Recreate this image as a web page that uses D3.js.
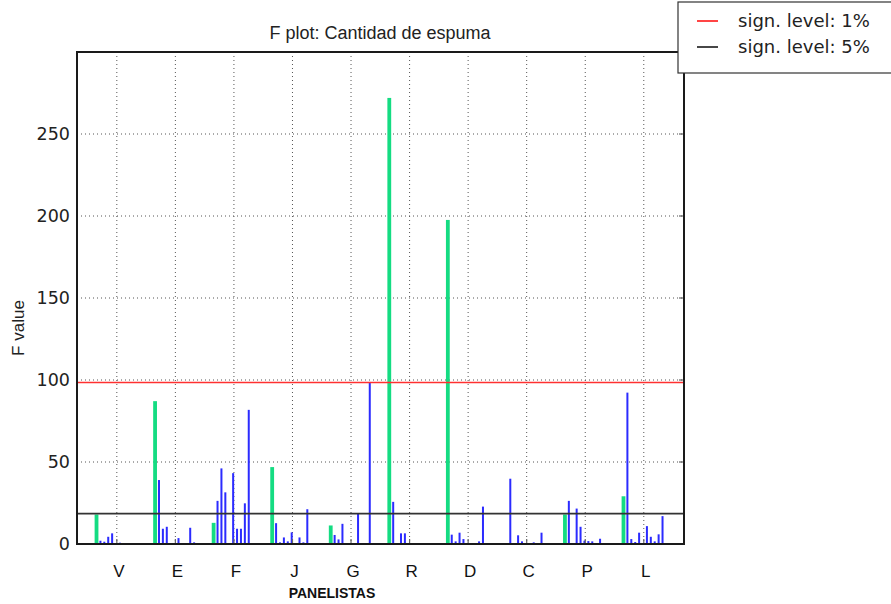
<!DOCTYPE html>
<html>
<head>
<meta charset="utf-8">
<script src="https://cdn.jsdelivr.net/npm/d3@7"></script>
<style>
  body { margin: 0; background: #fff; }
  svg { display: block; }
</style>
</head>
<body>
<div id="chart"></div>
<script>
const width = 891, height = 604;

// panelists and F values per attribute (first one = this attribute, green)
const panelists = ["V", "E", "F", "J", "G", "R", "D", "C", "P", "L"];
const fV = [18.0, 2.0, 1.4, 4.4, 6.5, 0, 0.8, 0, 0, 0, 0];
const fE = [87.1, 39.0, 9.3, 10.5, 0, 0, 3.6, 0, 0.6, 9.9, 1.0];
const fF = [12.9, 26.3, 46.1, 31.5, 0.5, 43.2, 9.3, 9.3, 24.8, 81.8, 0.6];
const fJ = [46.9, 12.7, 1.0, 4.0, 1.6, 7.1, 0.6, 4.0, 1.0, 21.2, 0];
const fG = [11.3, 5.5, 2.8, 12.3, 0, 0, 0, 18.6, 0, 0, 98.8];
const fR = [272, 25.7, 0.6, 6.5, 6.5, 0, 0, 0, 0, 0, 0.6];
const fD = [197.6, 5.7, 1.6, 6.9, 3.0, 0, 0.6, 0, 1.6, 22.8, 0];
const fC = [0, 39.8, 0, 5.3, 1.6, 0, 0.6, 1.0, 0, 6.9, 0.6];
const fP = [18.0, 26.3, 0, 21.6, 10.5, 2.0, 1.8, 1.6, 0, 3.2, 0.6];
const fL = [29.1, 92.3, 3.0, 1.2, 6.9, 0, 10.9, 4.4, 1.6, 5.9, 17.0];
const fValues = [fV, fE, fF, fJ, fG, fR, fD, fC, fP, fL];

const yTicks = [0, 50, 100, 150, 200, 250];
const level1 = 98.5;   // sign. level 1%
const level5 = 18.5;   // sign. level 5%

const slotsPerGroup = 15;
const tickOffset = 5.2;

const margin = { left: 77, right: 684, top: 52, bottom: 544 };

const svg = d3.select("#chart")
    .append("svg")
    .attr("width", width)
    .attr("height", height);

const x = d3.scaleLinear()
    .domain([-5, panelists.length * slotsPerGroup + 0.5])
    .range([margin.left, margin.right]);
const y = d3.scaleLinear()
    .domain([0, 300])
    .range([margin.bottom, margin.top]);

// flatten bars
const bars = [];
fValues.forEach((vals, g) => {
    vals.forEach((v, j) => {
        bars.push({ pos: g * slotsPerGroup + j, value: v, own: j === 0 });
    });
});

// grid
const grid = svg.append("g");
grid.selectAll(".vgrid")
    .data(panelists)
    .enter().append("line")
    .attr("x1", (d, i) => x(i * slotsPerGroup + tickOffset))
    .attr("x2", (d, i) => x(i * slotsPerGroup + tickOffset))
    .attr("y1", margin.top)
    .attr("y2", margin.bottom)
    .attr("stroke", "#555")
    .attr("stroke-width", 1)
    .attr("stroke-dasharray", "1,3");
grid.selectAll(".hgrid")
    .data(yTicks.slice(1))
    .enter().append("line")
    .attr("x1", margin.left)
    .attr("x2", margin.right)
    .attr("y1", d => y(d))
    .attr("y2", d => y(d))
    .attr("stroke", "#555")
    .attr("stroke-width", 1)
    .attr("stroke-dasharray", "1,3");

// bars
svg.selectAll(".bar")
    .data(bars.filter(d => d.value > 0))
    .enter().append("rect")
    .attr("x", d => x(d.pos) - (d.own ? 1.9 : 1))
    .attr("width", d => d.own ? 3.8 : 2)
    .attr("y", d => y(d.value))
    .attr("height", d => y(0) - y(d.value))
    .attr("fill", d => d.own ? "#14dc82" : "#2b2bff");

// significance lines
svg.append("line")
    .attr("x1", margin.left).attr("x2", margin.right)
    .attr("y1", y(level1)).attr("y2", y(level1))
    .attr("stroke", "#ff3030").attr("stroke-width", 1.6);
svg.append("line")
    .attr("x1", margin.left).attr("x2", margin.right)
    .attr("y1", y(level5)).attr("y2", y(level5))
    .attr("stroke", "#333").attr("stroke-width", 1.8);

// ticks inside the frame
svg.selectAll(".xtick")
    .data(panelists)
    .enter().append("line")
    .attr("x1", (d, i) => x(i * slotsPerGroup + tickOffset))
    .attr("x2", (d, i) => x(i * slotsPerGroup + tickOffset))
    .attr("y1", margin.bottom)
    .attr("y2", margin.bottom - 5)
    .attr("stroke", "#666").attr("stroke-width", 1.2);
svg.selectAll(".ytickR")
    .data(yTicks.slice(1))
    .enter().append("line")
    .attr("x1", margin.right)
    .attr("x2", margin.right - 5)
    .attr("y1", d => y(d))
    .attr("y2", d => y(d))
    .attr("stroke", "#666").attr("stroke-width", 1.2);

// frame
svg.append("rect")
    .attr("x", margin.left)
    .attr("y", margin.top)
    .attr("width", margin.right - margin.left)
    .attr("height", margin.bottom - margin.top)
    .attr("fill", "none")
    .attr("stroke", "#1a1a1a")
    .attr("stroke-width", 2);

// y labels
svg.selectAll(".ylab")
    .data(yTicks)
    .enter().append("text")
    .attr("x", 70)
    .attr("y", d => y(d))
    .attr("dy", "0.36em")
    .attr("text-anchor", "end")
    .attr("font-family", "DejaVu Sans")
    .attr("font-size", 17.5)
    .attr("fill", "#222")
    .text(d => d);

// x labels
svg.selectAll(".xlab")
    .data(panelists)
    .enter().append("text")
    .attr("x", (d, i) => x(i * slotsPerGroup + tickOffset) + 2)
    .attr("y", 577)
    .attr("text-anchor", "middle")
    .attr("font-family", "Liberation Sans, Arial")
    .attr("font-size", 17)
    .attr("fill", "#111")
    .text(d => d);

svg.append("text")
    .attr("x", 332)
    .attr("y", 598)
    .attr("text-anchor", "middle")
    .attr("font-family", "Liberation Sans, Arial")
    .attr("font-weight", "bold")
    .attr("font-size", 14)
    .attr("fill", "#111")
    .text("PANELISTAS");

svg.append("text")
    .attr("transform", "translate(24,328) rotate(-90)")
    .attr("text-anchor", "middle")
    .attr("font-family", "Liberation Sans Narrow, Liberation Sans, Arial")
    .attr("font-size", 17)
    .attr("fill", "#222")
    .text("F value");

// title
svg.append("text")
    .attr("x", 380)
    .attr("y", 39)
    .attr("text-anchor", "middle")
    .attr("font-family", "Liberation Sans Narrow, Liberation Sans, Arial")
    .attr("font-size", 18)
    .attr("fill", "#222")
    .text("F plot: Cantidad de espuma");

// legend
const legend = svg.append("g");
legend.append("rect")
    .attr("x", 678).attr("y", 2)
    .attr("width", 240).attr("height", 71)
    .attr("fill", "#fff")
    .attr("stroke", "#333")
    .attr("stroke-width", 1.2);
const legendItems = [
    { label: "sign. level: 1%", color: "#ff3030" },
    { label: "sign. level: 5%", color: "#333" }
];
legendItems.forEach((d, i) => {
    const ly = 21 + i * 26;
    legend.append("line")
        .attr("x1", 697).attr("x2", 718)
        .attr("y1", ly).attr("y2", ly)
        .attr("stroke", d.color).attr("stroke-width", 1.8);
    legend.append("text")
        .attr("x", 738).attr("y", ly)
        .attr("dy", "0.36em")
        .attr("font-family", "DejaVu Sans")
        .attr("font-size", 18)
        .attr("fill", "#222")
        .text(d.label);
});
</script>
</body>
</html>
